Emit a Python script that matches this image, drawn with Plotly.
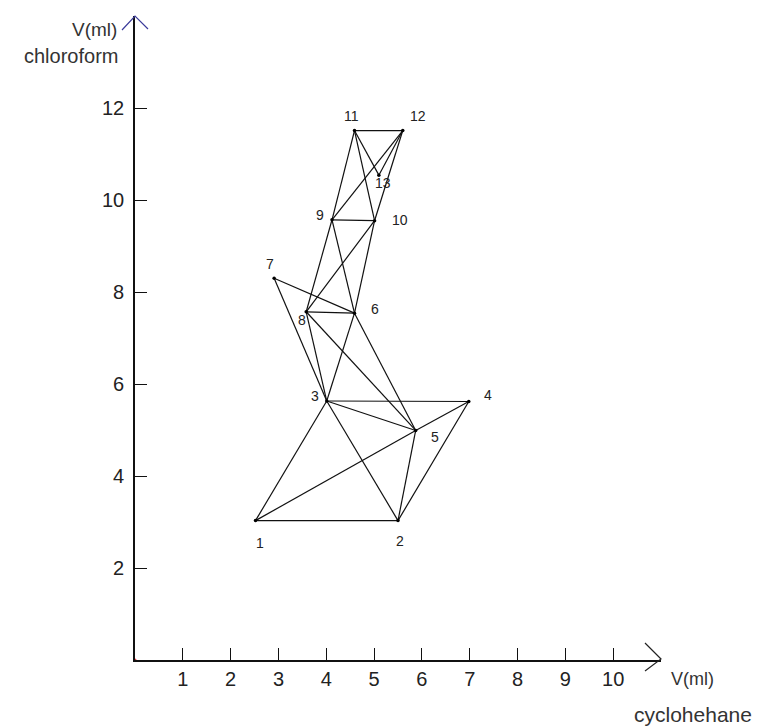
import plotly.graph_objects as go

# ---------------- data ----------------
point_labels = ["1", "2", "3", "4", "5", "6", "7", "8", "9", "10", "11", "12", "13"]
x_cyclohexane = [2.52, 5.50, 4.01, 6.98, 5.87, 4.59, 2.91, 3.58, 4.12, 5.01, 4.59, 5.60, 5.10]
y_chloroform = [3.03, 3.03, 5.63, 5.62, 4.99, 7.54, 8.30, 7.57, 9.57, 9.55, 11.51, 11.51, 10.54]

edges = [(1, 2), (1, 3), (1, 5), (2, 3), (2, 4), (2, 5), (3, 4), (3, 5), (4, 5),
         (3, 6), (5, 6), (3, 7), (6, 7), (3, 8), (6, 8), (5, 8),
         (8, 9), (6, 9), (8, 10), (6, 10), (9, 10),
         (9, 11), (10, 11), (9, 12), (10, 12), (11, 12), (11, 13), (12, 13)]

x_tick_vals = [1, 2, 3, 4, 5, 6, 7, 8, 9, 10]
y_tick_vals = [2, 4, 6, 8, 10, 12]

# label offsets in pixels (dx right, dy down)
label_offsets = [(4, 22), (2, 20), (-12, -5), (19, -6), (19, 7), (21, -4), (-4, -14),
                 (-4, 8), (-12, -5), (25, -1), (-3, -15), (15, -15), (4, 8)]

FONT = "Liberation Sans, Arial, sans-serif"

# ---------------- figure ----------------
ex, ey = [], []
for a, b in edges:
    ex += [x_cyclohexane[a - 1], x_cyclohexane[b - 1], None]
    ey += [y_chloroform[a - 1], y_chloroform[b - 1], None]

fig = go.Figure()
fig.add_trace(go.Scatter(x=ex, y=ey, mode="lines",
                         line=dict(color="#111111", width=1.2),
                         hoverinfo="skip", showlegend=False))
fig.add_trace(go.Scatter(x=x_cyclohexane, y=y_chloroform, mode="markers",
                         marker=dict(color="#000000", size=3.5),
                         showlegend=False))
# small red mark at the origin
fig.add_trace(go.Scatter(x=[0], y=[0], mode="markers",
                         marker=dict(color="#e0303a", size=3),
                         cliponaxis=False, showlegend=False))

annotations = []
for lab, xv, yv, (dx, dy) in zip(point_labels, x_cyclohexane, y_chloroform, label_offsets):
    annotations.append(dict(x=xv, y=yv, xref="x", yref="y", text=lab, showarrow=False,
                            xshift=dx, yshift=-dy,
                            font=dict(family=FONT, size=14, color="#222222")))

# page has an 8px body margin; figure is sized to fit the window
OFF = 8
W, H = 760 - OFF, 726 - OFF
L, R, T, B = 135 - OFF, 99, 16 - OFF, 66
pw, ph = W - L - R, H - T - B


def px(xp):  # page pixel -> paper x
    return (xp - OFF - L) / pw


def py(yp):  # page pixel -> paper y
    return (H - B - (yp - OFF)) / ph


annotations += [
    dict(x=px(119), y=py(29), xref="paper", yref="paper", text="V(ml)", showarrow=False,
         xanchor="right", yanchor="middle", font=dict(family=FONT, size=19, color="#333333")),
    dict(x=px(120), y=py(56), xref="paper", yref="paper", text="chloroform", showarrow=False,
         xanchor="right", yanchor="middle", font=dict(family=FONT, size=20, color="#333333")),
    dict(x=px(692), y=py(679), xref="paper", yref="paper", text="V(ml)", showarrow=False,
         xanchor="center", yanchor="middle", font=dict(family=FONT, size=18, color="#333333")),
    dict(x=px(693), y=py(714), xref="paper", yref="paper", text="cyclohehane", showarrow=False,
         xanchor="center", yanchor="middle", font=dict(family=FONT, size=21, color="#333333")),
]

shapes = [
    # x axis arrow head
    dict(type="path", xref="paper", yref="paper",
         path=f"M {px(645)} {py(643)} L {px(661)} {py(659)} L {px(645)} {py(671)}",
         line=dict(color="#222222", width=1.2)),
    # y axis arrow head (bluish)
    dict(type="path", xref="paper", yref="paper",
         path=f"M {px(122)} {py(30)} L {px(135)} {py(16)} L {px(148)} {py(29)}",
         line=dict(color="#3b3b9a", width=1.2)),
]

fig.update_layout(
    width=W, height=H,
    margin=dict(l=L, r=R, t=T, b=B, autoexpand=False),
    paper_bgcolor="white", plot_bgcolor="white",
    annotations=annotations, shapes=shapes,
    font=dict(family=FONT),
    xaxis=dict(range=[0, 11], tickvals=x_tick_vals, ticktext=[str(v) for v in x_tick_vals],
               showgrid=False, zeroline=False, showline=True, linecolor="#111111", linewidth=1.6,
               ticks="inside", ticklen=12, tickwidth=1.3, tickcolor="#111111",
               ticklabelstandoff=0,
               tickfont=dict(family=FONT, size=20, color="#222222"), fixedrange=True),
    yaxis=dict(range=[0, 14], tickvals=y_tick_vals, ticktext=[str(v) for v in y_tick_vals],
               showgrid=False, zeroline=False, showline=True, linecolor="#111111", linewidth=1.6,
               ticks="inside", ticklen=12, tickwidth=1.3, tickcolor="#111111",
               ticklabelstandoff=5,
               tickfont=dict(family=FONT, size=20, color="#222222"), fixedrange=True),
)

fig.write_html("out.html")
